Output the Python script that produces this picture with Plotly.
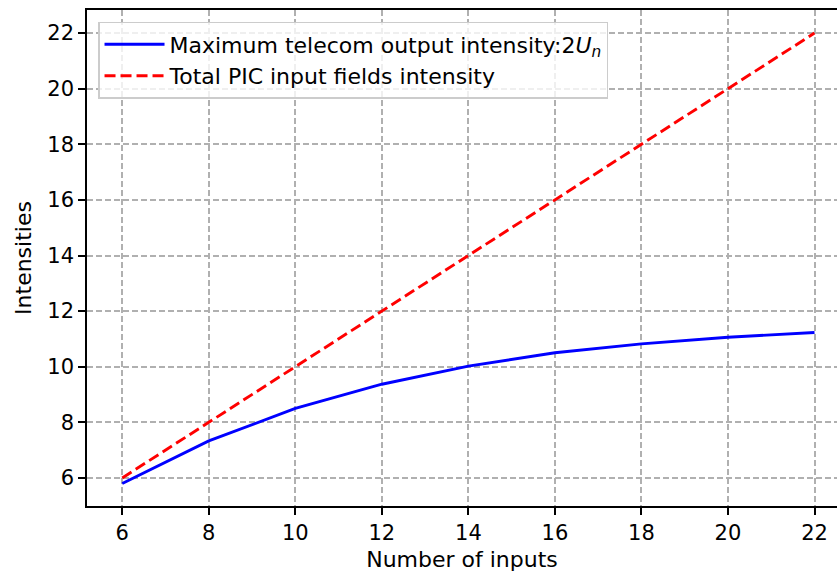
import plotly.graph_objects as go

# Number of PIC inputs
n_inputs = [6, 8, 10, 12, 14, 16, 18, 20, 22]
# Maximum telecom output intensity 2U_n
max_output = [5.8, 7.33, 8.5, 9.37, 10.02, 10.5, 10.82, 11.06, 11.23]
# Total input field intensity (one unit per input)
total_input = [6, 8, 10, 12, 14, 16, 18, 20, 22]

tick_vals = [6, 8, 10, 12, 14, 16, 18, 20, 22]

FONT = "DejaVu Sans"
FS = 22
TICK_FS = 21

fig = go.Figure()
fig.add_trace(go.Scatter(
    x=n_inputs, y=max_output, mode="lines",
    name="Maximum telecom output intensity:2<i>U</i><sub><i>n</i></sub>",
    line=dict(color="#0000ff", width=2.9),
))
fig.add_trace(go.Scatter(
    x=n_inputs, y=total_input, mode="lines",
    name="Total PIC input fields intensity",
    line=dict(color="#ff0000", width=2.9, dash="11px,5px"),
))

axis_common = dict(
    showgrid=True, gridcolor="#b0b0b0", gridwidth=1.5, griddash="6px,3px",
    zeroline=False, showline=True, linecolor="black", linewidth=1.5,
    ticks="outside", ticklen=7, tickwidth=1.5, tickcolor="black",
    tickfont=dict(family=FONT, size=TICK_FS, color="black"),
)

fig.update_layout(
    width=837, height=573,
    margin=dict(l=87, r=0, t=10, b=67),
    paper_bgcolor="white", plot_bgcolor="white",
    font=dict(family=FONT, size=FS, color="black"),
    xaxis=dict(
        range=[5.185, 22.52], tickvals=tick_vals, mirror=True,
        title=dict(text="Number of inputs", font=dict(family=FONT, size=FS), standoff=8),
        **axis_common,
    ),
    yaxis=dict(
        range=[4.99, 22.83], tickvals=tick_vals,
        title=dict(text="Intensities", font=dict(family=FONT, size=FS), standoff=10),
        **axis_common,
    ),
    legend=dict(
        x=0.0147, y=0.976, xanchor="left", yanchor="top",
        bgcolor="rgba(255,255,255,0.8)", bordercolor="#cccccc", borderwidth=1.5,
        font=dict(family=FONT, size=FS, color="black"),
        itemwidth=60, tracegroupgap=0,
    ),
    showlegend=True,
)

fig.write_html("out.html")
